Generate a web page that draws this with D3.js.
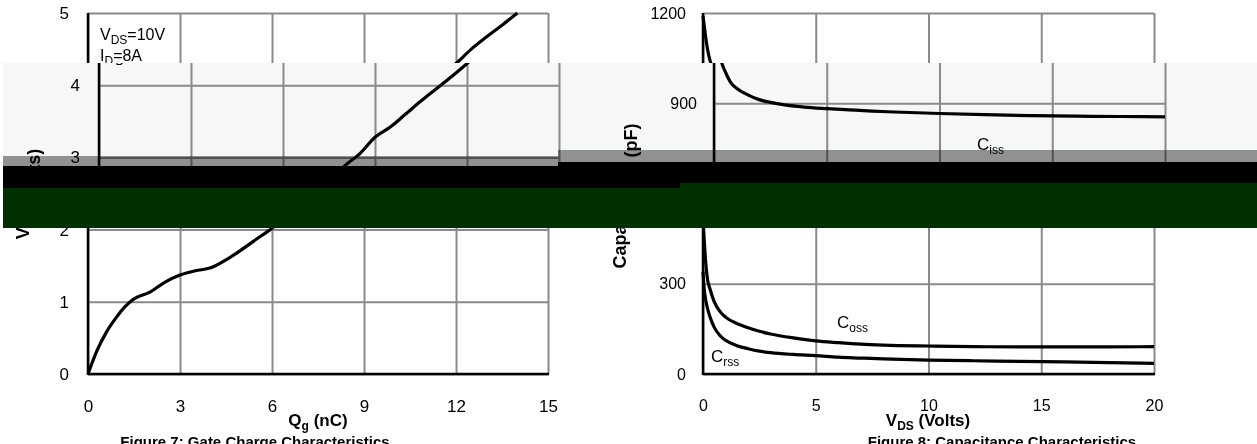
<!DOCTYPE html>
<html><head><meta charset="utf-8">
<script src="https://cdn.jsdelivr.net/npm/d3@7"></script>
<style>
body{margin:0;background:#fff}
svg{display:block}
text{font-family:"Liberation Sans",Arial,sans-serif;fill:#000}
</style></head><body>
<svg id="c" width="1257" height="444"></svg>
<script>
// ---- Figure 7 data: gate charge ----
const gateQ = [0,0.3,0.6,0.9,1.2,1.5,2.0,2.5,3.0,3.5,4.0,4.5,5.0,5.5,6.0,6.5,7.0,7.5,8.0,8.5,9.0,9.5,10.0,10.5,11.0,11.5,12.0,12.5,13.0,13.5,14.0];
const gateV = [0,0.33,0.58,0.77,0.93,1.04,1.13,1.27,1.37,1.43,1.47,1.58,1.72,1.87,2.02,2.2,2.42,2.65,2.88,3.05,3.28,3.42,3.6,3.78,3.95,4.12,4.3,4.5,4.67,4.83,5.0];
const gateXTicks = [0,3,6,9,12,15];
const gateYTicks = [0,1,2,3,4,5];

// ---- Figure 8 data: capacitance ----
const capVds = [0,0.05,0.1,0.2,0.3,0.5,0.75,1,1.5,2,2.5,3,4,5,6,7,8,10,12,14,16,18,20];
const cissPF = [1190,1160,1130,1080,1045,1005,968,950,928,912,903,896,887,882,878,874,871,866,862,859,857,856,855];
const cossPF = [520,450,390,315,285,240,208,189,168,154,142,133,120,110,104,99,96,93,91,90,90,90,91];
const crssPF = [340,285,255,218,192,155,128,112,94,84,76,71,65,61,56,53,50,46,44,42,40,38,35];
const capXTicks = [0,5,10,15,20];
const capYTicks = [0,300,600,900,1200];

const svg = d3.select("#c");
svg.append("rect").attr("width",1257).attr("height",444).attr("fill","#fff");

// text with subscripts: parts = [[text, isSub], ...]
function rich(g, parts, fs){
  const t = g.append("text").attr("font-size",fs);
  let down = false;
  const s = Math.round(fs*0.22);
  parts.forEach(([txt,sub])=>{
    const sp = t.append("tspan").text(txt);
    if(sub){ sp.attr("font-size",Math.round(fs*0.72)); if(!down){sp.attr("dy",s); down=true;} }
    else if(down){ sp.attr("dy",-s); down=false; }
  });
  return t;
}

function panel(g, o){
  const x = d3.scaleLinear().domain(o.xd).range(o.xr);
  const y = d3.scaleLinear().domain(o.yd).range([374,13]);
  const h = y(o.yd[0]) - y(o.yd[1]);
  const w = x(o.xd[1]) - x(o.xd[0]);
  const gx = g.append("g").attr("transform",`translate(0,${y(o.yd[0])})`)
    .call(d3.axisBottom(x).tickValues(o.xt).tickSize(-h).tickFormat(""));
  const gy = g.append("g").attr("transform",`translate(${x(o.xd[0])},0)`)
    .call(d3.axisLeft(y).tickValues(o.yt).tickSize(-w).tickFormat(""));
  [gx,gy].forEach(a=>{a.select(".domain").remove(); a.selectAll("text").remove(); a.selectAll("line").attr("stroke","#8a8a8a").attr("stroke-width",2);});
  g.append("line").attr("x1",x(o.xd[0])).attr("x2",x(o.xd[0])).attr("y1",y(o.yd[0])+1).attr("y2",y(o.yd[1]))
    .attr("stroke","#000").attr("stroke-width",2.5);
  g.append("line").attr("x1",x(o.xd[0])).attr("x2",x(o.xd[1])+1).attr("y1",y(o.yd[0])).attr("y2",y(o.yd[0]))
    .attr("stroke","#000").attr("stroke-width",2.5);
  const fmt = d3.format("d");
  const lx = g.append("g").attr("transform",`translate(0,${y(o.yd[0])})`)
    .call(d3.axisBottom(x).tickValues(o.xt).tickSize(0).tickPadding(26).tickFormat(fmt));
  const ly = g.append("g").attr("transform",`translate(${x(o.xd[0])},0)`)
    .call(d3.axisLeft(y).tickValues(o.yt).tickSize(0).tickPadding(o.ypad).tickFormat(fmt));
  [lx,ly].forEach(a=>{a.attr("font-size",o.fs).attr("font-family","Liberation Sans, Arial, sans-serif");
    a.select(".domain").remove(); a.selectAll("line").remove(); a.selectAll("text").attr("fill","#000");});
  o.series.forEach(s=>{
    const line = d3.line().x(d=>x(d[0])).y(d=>y(d[1])).curve(d3.curveMonotoneX);
    g.append("path").datum(s.xs.map((v,i)=>[v,s.ys[i]])).attr("d",line)
      .attr("fill","none").attr("stroke","#000").attr("stroke-width",3.2).attr("stroke-linejoin","round");
  });
}

function drawAll(g){
  // Figure 7
  panel(g,{xd:[0,15],xr:[88,548],yd:[0,5],xt:gateXTicks,yt:gateYTicks,ypad:19,fs:17,
    series:[{xs:gateQ,ys:gateV}]});
  rich(g,[["V"],["DS",1],["=10V"]],16).attr("x",100).attr("y",40);
  rich(g,[["I"],["D",1],["=8A"]],16).attr("x",100).attr("y",61);
  rich(g,[["Q"],["g",1],[" (nC)"]],17).attr("x",318).attr("y",426).attr("font-weight","bold").attr("text-anchor","middle");
  rich(g,[["V"],["GS",1],[" (Volts)"]],18).attr("transform","translate(29,194) rotate(-90)").attr("font-weight","bold").attr("text-anchor","middle");
  g.append("text").attr("x",255).attr("y",447).attr("font-size",15).attr("font-weight","bold").attr("text-anchor","middle")
    .text("Figure 7: Gate Charge Characteristics");

  // Figure 8
  panel(g,{xd:[0,20],xr:[703,1154],yd:[0,1200],xt:capXTicks,yt:capYTicks,ypad:17,fs:16,
    series:[{xs:capVds,ys:cissPF},{xs:capVds,ys:cossPF},{xs:capVds,ys:crssPF}]});
  rich(g,[["C"],["iss",1]],17).attr("x",966).attr("y",150);
  rich(g,[["C"],["oss",1]],17).attr("x",837).attr("y",328);
  rich(g,[["C"],["rss",1]],17).attr("x",711).attr("y",362);
  rich(g,[["V"],["DS",1],[" (Volts)"]],17).attr("x",928).attr("y",426).attr("font-weight","bold").attr("text-anchor","middle");
  g.append("text").attr("transform","translate(626,196) rotate(-90)").attr("font-size",18).attr("font-weight","bold").attr("text-anchor","middle")
    .text("Capacitance (pF)");
  g.append("text").attr("x",1002).attr("y",447).attr("font-size",15).attr("font-weight","bold").attr("text-anchor","middle")
    .text("Figure 8: Capacitance Characteristics");
}

// base picture
drawAll(svg.append("g"));

// shifted strip (scan-line offset in the reference)
svg.append("defs").append("clipPath").attr("id","strip")
  .append("rect").attr("x",3).attr("y",63).attr("width",1254).attr("height",127);
const strip = svg.append("g").attr("clip-path","url(#strip)");
strip.append("rect").attr("x",3).attr("y",63).attr("width",1254).attr("height",127).attr("fill","#f6f7f7");
drawAll(strip.append("g").attr("transform","translate(11,0)"));

// banded overlay
const over = svg.append("g");
function band(x0,y0,x1,y1,fill,blend){
  const r = over.append("rect").attr("x",x0).attr("y",y0).attr("width",x1-x0).attr("height",y1-y0).attr("fill",fill);
  if(blend) r.style("mix-blend-mode",blend);
}
band(3,156,558,166,"#969696","multiply");
band(558,150,1257,162,"#969696","multiply");
band(3,166,558,188,"#000");
band(558,162,680,188,"#000");
band(680,162,1257,183,"#000");
band(3,188,680,228,"#003000");
band(680,183,1257,228,"#003000");
</script>
</body></html>
